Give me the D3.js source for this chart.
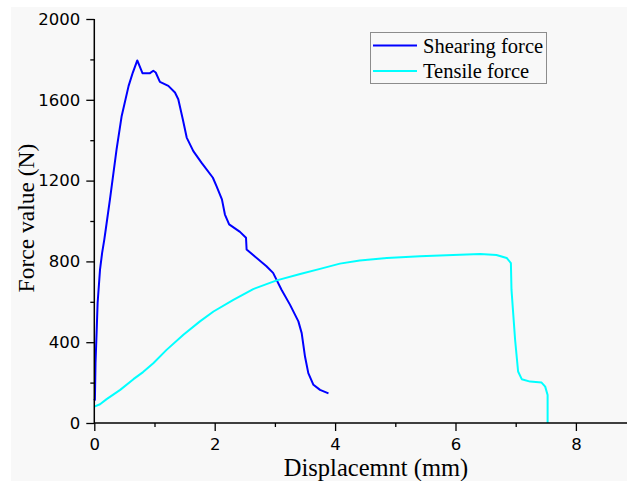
<!DOCTYPE html>
<html lang="en">
<head>
    <meta charset="UTF-8">
    <title>Shearing and tensile force</title>
    <script src="https://d3js.org/d3.v7.min.js"></script>
    <style>
        body { margin: 0; background: #ffffff; }
        .tick text { font-family: "DejaVu Sans", sans-serif; font-size: 16.5px; fill: #000; }
        .title { font-family: "Liberation Serif", "Times New Roman", serif; fill: #000; }
    </style>
</head>
<body>
<div id="chart"></div>
<script>
    // displacement (mm) / force (N)
    const shearX = [0, 0.01, 0.02, 0.04, 0.055, 0.095, 0.13, 0.166, 0.19, 0.26, 0.37, 0.455, 0.57, 0.64, 0.714,
        0.80, 0.925, 0.98, 1.02, 1.09, 1.23, 1.34, 1.395, 1.47, 1.535, 1.645, 1.78, 1.97, 2.03, 2.12, 2.17,
        2.24, 2.42, 2.52, 2.53, 2.86, 2.97, 3.11, 3.25, 3.39, 3.445, 3.5, 3.555, 3.64, 3.75, 3.89];
    const shearY = [120, 114, 296, 462, 594, 759, 842, 908, 958, 1107, 1355, 1520, 1669, 1735, 1795,
        1732, 1732, 1744, 1735, 1689, 1669, 1636, 1603, 1504, 1413, 1346, 1289, 1214, 1173, 1107, 1032,
        983, 946, 917, 859, 776, 743, 660, 586, 503, 445, 329, 247, 189, 164, 147];

    const tensileX = [0, 0.095, 0.205, 0.43, 0.65, 0.81, 0.98, 1.20, 1.48, 1.755, 1.98, 2.31, 2.64, 3.03,
        3.42, 3.75, 4.08, 4.41, 4.86, 5.41, 5.96, 6.41, 6.68, 6.85, 6.92, 6.93, 6.99, 7.04, 7.10, 7.24,
        7.43, 7.49, 7.53, 7.53];
    const tensileY = [81, 93, 118, 164, 217, 252, 296, 362, 437, 503, 552, 610, 663, 706,
        738, 763, 789, 804, 817, 825, 832, 837, 832, 817, 792, 660, 412, 255, 217, 205,
        200, 180, 139, 0];

    const seriesNames = ['Shearing force', 'Tensile force'];
    const seriesColors = ['#0000ff', '#00ffff'];

    const xMajor = [0, 2, 4, 6, 8];
    const xMinor = [1, 3, 5, 7];
    const yMajor = [0, 400, 800, 1200, 1600, 2000];
    const yMinor = [200, 600, 1000, 1400, 1800];

    const width = 627, height = 481;
    const svg = d3.select('#chart').append('svg')
        .attr('width', width)
        .attr('height', height);

    // light grey panel behind everything
    svg.append('rect')
        .attr('x', 11).attr('y', 7)
        .attr('width', width - 11).attr('height', height - 7)
        .attr('fill', '#f8f8f8');

    const x = d3.scaleLinear().domain([0, 9]).range([94.3, 94.3 + 9 * 60.2]);
    const y = d3.scaleLinear().domain([0, 2000]).range([423, 19]);

    const line = d3.line()
        .x(d => x(d[0]))
        .y(d => y(d[1]));

    const series = [
        d3.zip(shearX, shearY),
        d3.zip(tensileX, tensileY)
    ];

    svg.append('g')
        .selectAll('path')
        .data(series)
        .enter()
        .append('path')
        .attr('d', line)
        .attr('fill', 'none')
        .attr('stroke', (d, i) => seriesColors[i])
        .attr('stroke-width', 2)
        .attr('stroke-linejoin', 'round');

    // axes
    const xAxis = svg.append('g')
        .attr('transform', `translate(0,${y(0)})`)
        .call(d3.axisBottom(x).tickValues(xMajor).tickSize(8).tickPadding(7).tickFormat(d3.format('d')));
    svg.append('g')
        .attr('transform', `translate(0,${y(0)})`)
        .call(d3.axisBottom(x).tickValues(xMinor).tickSize(4).tickFormat(''))
        .select('.domain').remove();

    const yAxis = svg.append('g')
        .attr('transform', `translate(${x(0)},0)`)
        .call(d3.axisLeft(y).tickValues(yMajor).tickSize(8).tickPadding(6).tickFormat(d3.format('d')));
    svg.append('g')
        .attr('transform', `translate(${x(0)},0)`)
        .call(d3.axisLeft(y).tickValues(yMinor).tickSize(4).tickFormat(''))
        .select('.domain').remove();

    svg.selectAll('.domain').attr('stroke', '#000').attr('stroke-width', 1.5);
    svg.selectAll('.tick line').attr('stroke', '#000').attr('stroke-width', 1.3);
    // drop the outer end caps of the domain path
    xAxis.select('.domain').attr('d', `M${x(0)},0H${width}`);
    yAxis.select('.domain').attr('d', `M0,${y(2000)}V${y(0)}`);

    svg.append('text')
        .attr('class', 'title')
        .attr('x', 376).attr('y', 476)
        .attr('text-anchor', 'middle')
        .style('font-size', '24.5px')
        .text('Displacemnt (mm)');

    svg.append('text')
        .attr('class', 'title')
        .attr('transform', 'translate(34,218) rotate(-90)')
        .attr('text-anchor', 'middle')
        .style('font-size', '23.5px')
        .text('Force value (N)');

    // legend
    const legend = svg.append('g');
    legend.append('rect')
        .attr('x', 370.5).attr('y', 32.5)
        .attr('width', 176).attr('height', 51)
        .attr('fill', 'none')
        .attr('stroke', '#8c8c8c')
        .attr('stroke-width', 1);

    const entry = legend.selectAll('.entry')
        .data(seriesNames)
        .enter()
        .append('g')
        .attr('class', 'entry')
        .attr('transform', (d, i) => `translate(0,${i * 25.5})`);
    entry.append('line')
        .attr('x1', 373).attr('x2', 417)
        .attr('y1', 45.5).attr('y2', 45.5)
        .attr('stroke', (d, i) => seriesColors[i])
        .attr('stroke-width', 2);
    entry.append('text')
        .attr('class', 'title')
        .attr('x', 423).attr('y', 52.5)
        .style('font-size', '20.5px')
        .text(d => d);
</script>
</body>
</html>
